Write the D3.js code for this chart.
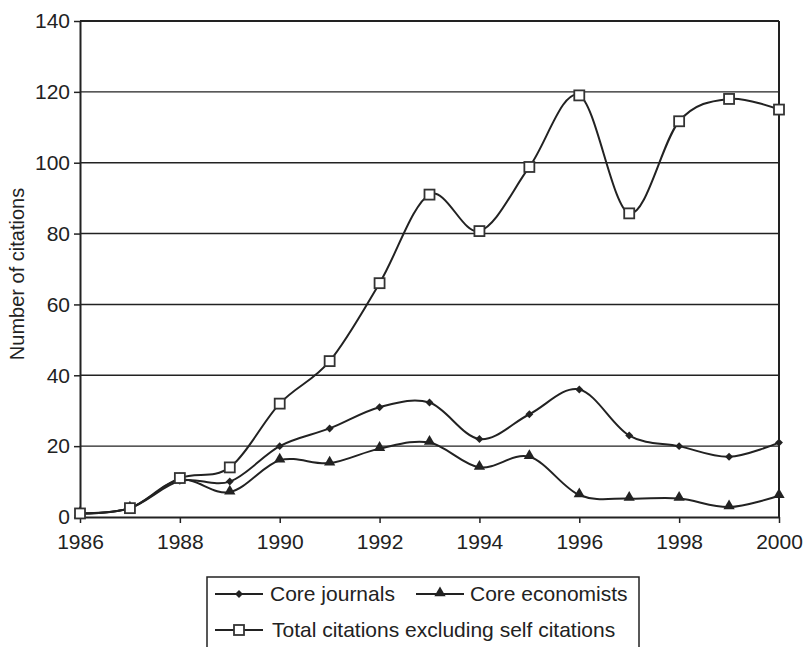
<!DOCTYPE html>
<html>
<head>
<meta charset="utf-8">
<script src="https://cdn.jsdelivr.net/npm/d3@7/dist/d3.min.js"></script>
<style>
  html, body { margin: 0; padding: 0; background: #fff; }
  svg { display: block; }
  text { font-family: "Liberation Sans", Arial, Helvetica, sans-serif; fill: #222; }
</style>
</head>
<body>
<svg id="chart" width="803" height="647"></svg>
<script>
const years = [1986, 1987, 1988, 1989, 1990, 1991, 1992, 1993, 1994, 1995, 1996, 1997, 1998, 1999, 2000];
const coreJournals = [1, 2.5, 10.2, 10, 20, 25, 31, 32.3, 22, 29, 36, 23, 20, 17, 21];
const coreEconomists = [1, 2.5, 10.5, 7, 16, 15.2, 19.3, 21, 14, 17, 6.2, 5.2, 5.2, 2.8, 6];
const totalCitations = [1, 2.5, 11, 14, 32, 44, 66, 91, 80.7, 98.8, 119, 85.7, 111.7, 118, 115];
const xTicks = [1986, 1988, 1990, 1992, 1994, 1996, 1998, 2000];
const yTicks = [0, 20, 40, 60, 80, 100, 120, 140];
const seriesNames = ["Core journals", "Core economists", "Total citations excluding self citations"];

const svg = d3.select("#chart");
const L = 80, R = 779, T = 21, B = 517;
const x = d3.scaleLinear().domain([1986, 2000]).range([L, R]);
const y = d3.scaleLinear().domain([0, 140]).range([B, T]);
const ink = "#222";

// gridlines
svg.append("g").selectAll("line").data(yTicks.filter(v => v > 0 && v < 140)).join("line")
  .attr("x1", L).attr("x2", R).attr("y1", d => y(d)).attr("y2", d => y(d))
  .attr("stroke", ink).attr("stroke-width", 1.4);

// frame top & right
svg.append("line").attr("x1", L).attr("x2", R).attr("y1", y(140)).attr("y2", y(140)).attr("stroke", ink).attr("stroke-width", 2);
svg.append("line").attr("x1", R).attr("x2", R).attr("y1", T).attr("y2", B).attr("stroke", ink).attr("stroke-width", 2);

// axes
const yAxis = svg.append("g").attr("transform", `translate(${L},0)`)
  .call(d3.axisLeft(y).tickValues(yTicks).tickSize(6).tickPadding(4).tickSizeOuter(0));
const xAxis = svg.append("g").attr("transform", `translate(0,${B})`)
  .call(d3.axisBottom(x).tickValues(xTicks).tickFormat(d3.format("d")).tickSize(6).tickPadding(11).tickSizeOuter(0));
[yAxis, xAxis].forEach(g => {
  g.select(".domain").attr("stroke", ink).attr("stroke-width", 2);
  g.selectAll(".tick line").attr("stroke", ink).attr("stroke-width", 1.5);
  g.selectAll(".tick text").attr("font-size", 21).attr("fill", ink)
    .style("font-family", '"Liberation Sans", Arial, sans-serif');
});

// y title
svg.append("text").attr("transform", `translate(24,${(T + B) / 2 + 5}) rotate(-90)`)
  .attr("text-anchor", "middle").attr("font-size", 20).text("Number of citations");

const line = d3.line().x((d, i) => x(years[i])).y(d => y(d)).curve(d3.curveCardinal.tension(0));

const diamond = d3.symbol().type(d3.symbolDiamond2).size(40);
const triangle = d3.symbol().type(d3.symbolTriangle).size(55);

function drawSeries(vals, kind) {
  const g = svg.append("g");
  g.append("path").attr("d", line(vals)).attr("fill", "none").attr("stroke", ink).attr("stroke-width", 2);
  const pts = g.selectAll("g.pt").data(vals).join("g")
    .attr("transform", (d, i) => `translate(${x(years[i])},${y(d)})`);
  drawMarker(pts, kind);
}
function drawMarker(sel, kind) {
  if (kind === "diamond") {
    sel.append("path").attr("d", diamond).attr("fill", ink);
  } else if (kind === "triangle") {
    sel.append("path").attr("d", triangle).attr("fill", ink).attr("transform", "translate(0,-1)");
  } else {
    sel.append("rect").attr("x", -5).attr("y", -5).attr("width", 10).attr("height", 10)
      .attr("fill", "#fff").attr("stroke", "#333").attr("stroke-width", 1.8);
  }
}
drawSeries(coreEconomists, "triangle");
drawSeries(coreJournals, "diamond");
drawSeries(totalCitations, "square");

// legend
const lg = svg.append("g");
lg.append("rect").attr("x", 207).attr("y", 577).attr("width", 432).attr("height", 80)
  .attr("fill", "#fff").attr("stroke", ink).attr("stroke-width", 1.5);
const entries = [
  { name: seriesNames[0], kind: "diamond", x0: 215, tx: 270, y0: 594 },
  { name: seriesNames[1], kind: "triangle", x0: 416, tx: 470, y0: 594 },
  { name: seriesNames[2], kind: "square", x0: 215, tx: 272, y0: 630 }
];
entries.forEach(e => {
  const g = lg.append("g");
  g.append("line").attr("x1", e.x0).attr("x2", e.x0 + 48).attr("y1", e.y0).attr("y2", e.y0)
    .attr("stroke", ink).attr("stroke-width", 2);
  const m = g.append("g").attr("transform", `translate(${e.x0 + 24},${e.y0})`);
  drawMarker(m, e.kind);
  g.append("text").attr("x", e.tx).attr("y", e.y0).attr("dy", "0.35em")
    .attr("font-size", 21).text(e.name);
});
</script>
</body>
</html>
